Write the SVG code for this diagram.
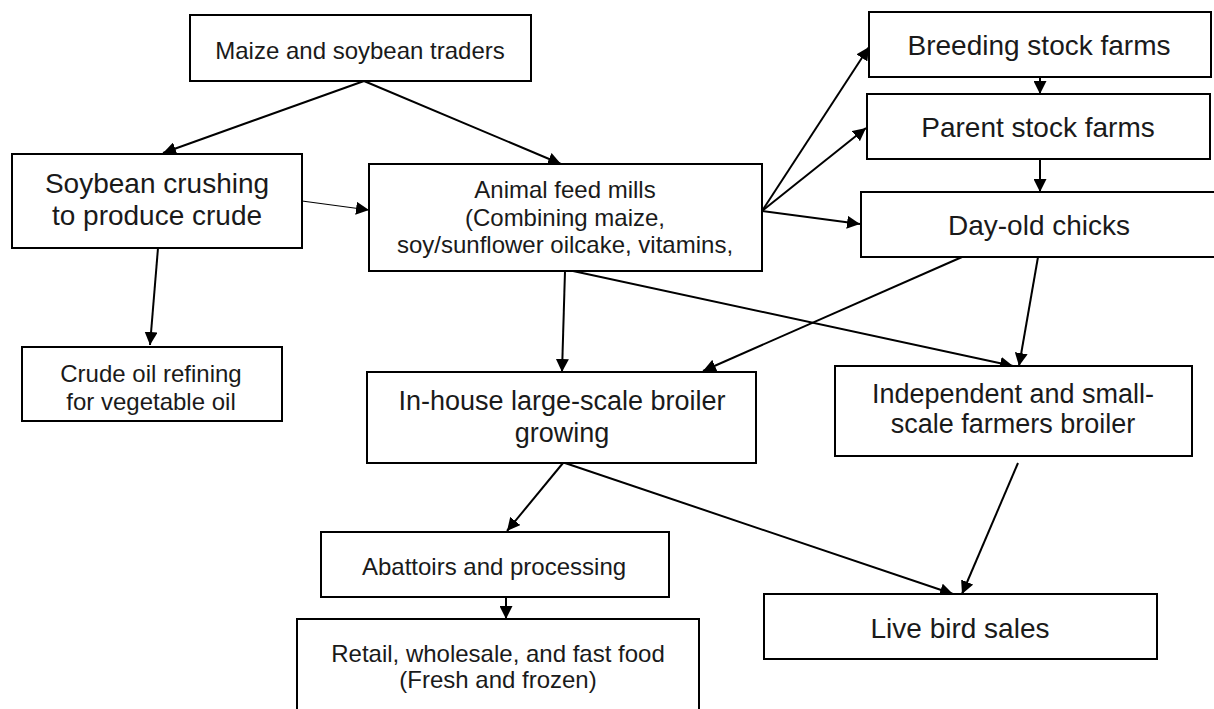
<svg xmlns="http://www.w3.org/2000/svg" width="1214" height="709" viewBox="0 0 1214 709">
  <style>
    .box { fill: #ffffff; stroke: #000000; stroke-width: 2; }
    .t { font-family: "Liberation Sans", Arial, sans-serif; fill: #1a1a1a; text-anchor: middle; }
    .s24 { font-size: 24px; }
    .s27 { font-size: 27px; }
    .s28 { font-size: 28px; }
    .c { fill: none; stroke: #000000; stroke-width: 2; marker-end: url(#ah); }
    .thin { stroke-width: 1.2; }
  </style>
  <defs>
    <marker id="ah" markerUnits="userSpaceOnUse" markerWidth="13" markerHeight="13" refX="13" refY="6.5" orient="auto">
      <path d="M0,0 L13,6.5 L0,13 z" fill="#000000"/>
    </marker>
  </defs>
  <rect width="1214" height="709" fill="#ffffff"/>

  <g id="connectors">
    <line class="c" x1="364" y1="81" x2="163" y2="153"/>
    <line class="c" x1="364" y1="81" x2="561" y2="164"/>
    <line class="c thin" x1="302" y1="201" x2="369" y2="210"/>
    <line class="c" x1="158" y1="248" x2="150" y2="345"/>
    <line class="c" x1="762" y1="211" x2="869" y2="47"/>
    <line class="c" x1="762" y1="211" x2="866" y2="128"/>
    <line class="c" x1="762" y1="211" x2="860" y2="224"/>
    <line class="c" x1="1040" y1="77" x2="1040" y2="94"/>
    <line class="c" x1="1040" y1="159" x2="1040" y2="192"/>
    <line class="c" x1="565" y1="271" x2="562" y2="372"/>
    <line class="c" x1="573" y1="271" x2="1013" y2="366"/>
    <line class="c" x1="962" y1="257" x2="703" y2="371"/>
    <line class="c" x1="1038" y1="257" x2="1019" y2="366"/>
    <line class="c" x1="563" y1="463" x2="507" y2="531"/>
    <line class="c" x1="565" y1="463" x2="953" y2="594"/>
    <line class="c" x1="1018" y1="463" x2="962" y2="594"/>
    <line class="c" x1="506" y1="597" x2="506" y2="619"/>
  </g>

  <g id="maize">
    <rect class="box" x="190" y="15" width="341" height="66"/>
    <text class="t s24" x="360" y="59">Maize and soybean traders</text>
  </g>
  <g id="soybean">
    <rect class="box" x="12" y="154" width="290" height="94"/>
    <text class="t s28" x="157" y="193">Soybean crushing</text>
    <text class="t s28" x="157" y="225">to produce crude</text>
  </g>
  <g id="crude-oil">
    <rect class="box" x="22" y="347" width="260" height="74"/>
    <text class="t s24" x="151" y="382">Crude oil refining</text>
    <text class="t s24" x="151" y="410">for vegetable oil</text>
  </g>
  <g id="feed-mills">
    <rect class="box" x="369" y="164" width="393" height="107"/>
    <text class="t s24" x="565" y="198">Animal feed mills</text>
    <text class="t s24" x="565" y="226">(Combining maize,</text>
    <text class="t s24" x="565" y="253">soy/sunflower oilcake, vitamins,</text>
  </g>
  <g id="breeding">
    <rect class="box" x="869" y="12" width="342" height="65"/>
    <text class="t s28" x="1039" y="55">Breeding stock farms</text>
  </g>
  <g id="parent">
    <rect class="box" x="867" y="94" width="343" height="65"/>
    <text class="t s28" x="1038" y="137">Parent stock farms</text>
  </g>
  <g id="day-old">
    <rect class="box" x="861" y="192" width="360" height="65"/>
    <text class="t s28" x="1039" y="235">Day-old chicks</text>
  </g>
  <g id="in-house">
    <rect class="box" x="367" y="372" width="389" height="91"/>
    <text class="t s27" x="562" y="410">In-house large-scale broiler</text>
    <text class="t s27" x="562" y="442">growing</text>
  </g>
  <g id="independent">
    <rect class="box" x="835" y="366" width="357" height="90"/>
    <text class="t s27" x="1013" y="403">Independent and small-</text>
    <text class="t s27" x="1013" y="433">scale farmers broiler</text>
  </g>
  <g id="abattoirs">
    <rect class="box" x="321" y="532" width="348" height="65"/>
    <text class="t s24" x="494" y="575">Abattoirs and processing</text>
  </g>
  <g id="retail">
    <rect class="box" x="297" y="619" width="402" height="100"/>
    <text class="t s24" x="498" y="662">Retail, wholesale, and fast food</text>
    <text class="t s24" x="498" y="688">(Fresh and frozen)</text>
  </g>
  <g id="live-bird">
    <rect class="box" x="764" y="594" width="393" height="65"/>
    <text class="t s28" x="960" y="638">Live bird sales</text>
  </g>
</svg>
